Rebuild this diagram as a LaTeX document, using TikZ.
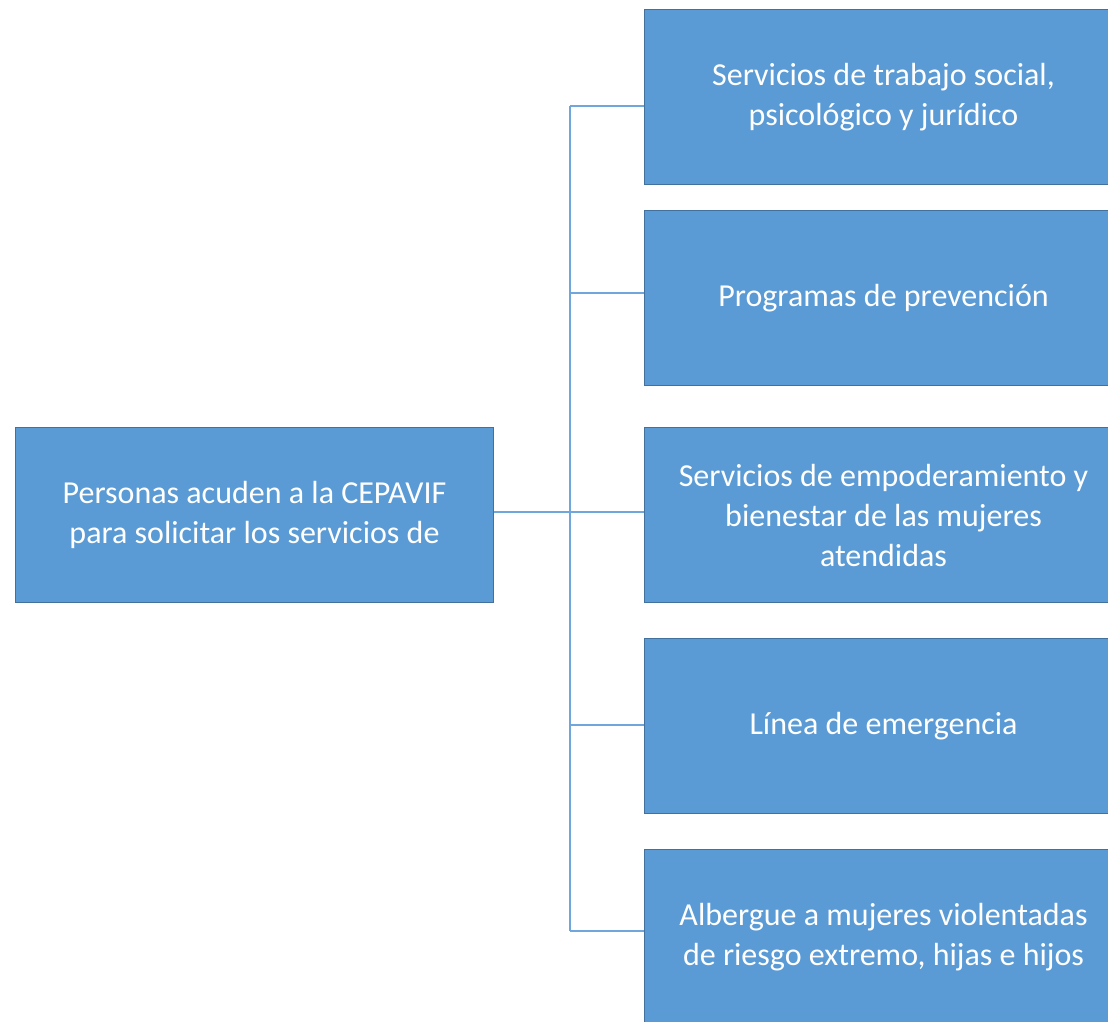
\documentclass[tikz,border=0pt]{standalone}
\usepackage{fontspec}
\setmainfont{Carlito}
\definecolor{boxfill}{HTML}{5B9BD5}
\definecolor{boxline}{HTML}{41719C}
\definecolor{conn}{HTML}{6FA6DB}
\begin{document}
\begin{tikzpicture}[x=1pt,y=-1pt,
  blockbox/.style={draw=boxline, line width=1pt, fill=boxfill, text=white,
    minimum width=478pt, minimum height=175pt, inner sep=0pt, align=center,
    font=\fontsize{32}{40}\selectfont, anchor=north west},
  link/.style={draw=conn, line width=1.6pt}]
\useasboundingbox (0,0) rectangle (1108,1021);
\clip (0,0) rectangle (1108,1021);
\node[blockbox] (src) at (15,427) {Personas acuden a la CEPAVIF\\para solicitar los servicios de};
\node[blockbox] (b1) at (644,9) {Servicios de trabajo social,\\psicológico y jurídico};
\node[blockbox] (b2) at (644,210) {Programas de prevención};
\node[blockbox] (b3) at (644,427) {Servicios de empoderamiento y\\bienestar de las mujeres\\atendidas};
\node[blockbox] (b4) at (644,638) {Línea de emergencia};
\node[blockbox] (b5) at (644,849) {Albergue a mujeres violentadas\\de riesgo extremo, hijas e hijos};
\coordinate (s1) at (570,106);
\coordinate (s2) at (570,293);
\coordinate (s3) at (570,512);
\coordinate (s4) at (570,725);
\coordinate (s5) at (570,931);
\draw[link] (s1) -- (s5);
\draw[link] (src.east |- s3) -- (s3);
\draw[link] (s1) -- (b1.west |- s1);
\draw[link] (s2) -- (b2.west |- s2);
\draw[link] (s3) -- (b3.west |- s3);
\draw[link] (s4) -- (b4.west |- s4);
\draw[link] (s5) -- (b5.west |- s5);
\end{tikzpicture}
\end{document}
